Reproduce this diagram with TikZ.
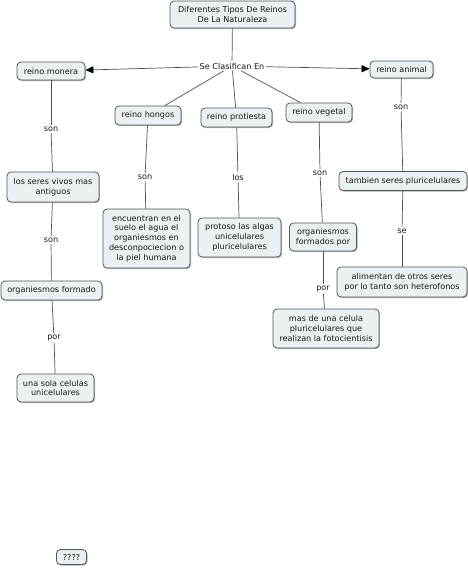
\documentclass[tikz,border=0pt]{standalone}
\usepackage{fontspec}
\setmainfont{DejaVu Sans}
\usetikzlibrary{shadows,arrows.meta}
\definecolor{boxfill}{HTML}{EBF0F3}
\definecolor{boxline}{HTML}{555555}
\definecolor{lineclr}{HTML}{505050}
\begin{document}
\begin{tikzpicture}[x=1pt,y=-1pt,
 concept/.style={draw=boxline, line width=0.8pt, fill=boxfill, rounded corners=4pt, align=center, inner sep=0pt,
   font=\fontsize{8.1}{9.8}\selectfont, text=black!90,
   drop shadow={shadow xshift=1pt, shadow yshift=-1pt, fill=black, opacity=0.3}},
 link/.style={inner sep=1.5pt, font=\fontsize{8.1}{9.8}\selectfont, text=black!90},
 conn/.style={draw=lineclr, line width=0.7pt},
 arr/.style={conn, -{Triangle[length=8pt,width=7pt,fill=black,color=black]}}]
\useasboundingbox (0,0) rectangle (468,568);
\fill[white] (0,0) rectangle (468,568);

\node[concept, minimum width=125pt, minimum height=27pt] (title) at (232.5,14.5) {Diferentes Tipos De Reinos\\De La Naturaleza};
\node[link] (sce) at (232,66) {Se Clasifican En};
\node[concept, minimum width=68pt, minimum height=18pt] (monera) at (51,71) {reino monera};
\node[concept, minimum width=63pt, minimum height=17pt] (animal) at (401.5,69.5) {reino animal};
\node[concept, minimum width=66pt, minimum height=19pt] (hongos) at (148,115.5) {reino hongos};
\node[concept, minimum width=71pt, minimum height=19pt] (protiesta) at (236.5,117.5) {reino protiesta};
\node[concept, minimum width=66pt, minimum height=19pt] (vegetal) at (319,112.5) {reino vegetal};

\node[link] (l1) at (51,129) {son};
\node[concept, minimum width=92pt, minimum height=30pt] (seres) at (53,187) {los seres vivos mas\\antiguos};
\node[link] (l2) at (51,240) {son};
\node[concept, minimum width=101pt, minimum height=19pt] (formado) at (51.5,290.5) {organiesmos formado};
\node[link] (l3) at (54,338) {por};
\node[concept, minimum width=77pt, minimum height=28pt] (sola) at (55.5,388) {una sola celulas\\unicelulares};

\node[link] (l4) at (145,177) {son};
\node[concept, minimum width=87pt, minimum height=59pt] (encuentran) at (146.5,238.5) {encuentran en el\\suelo el agua el\\organiesmos en\\desconpociecion o\\la piel humana};

\node[link] (l5) at (238,177) {los};
\node[concept, minimum width=83pt, minimum height=39pt] (protoso) at (239.5,237.5) {protoso las algas\\unicelulares\\pluricelulares};

\node[link] (l6) at (320,173) {son};
\node[concept, minimum width=67pt, minimum height=28pt] (formados) at (323,237) {organiesmos\\formados por};
\node[link] (l7) at (323,289) {por};
\node[concept, minimum width=106pt, minimum height=39pt] (mas) at (326,328.5) {mas de una celula\\pluricelulares que\\realizan la fotocientisis};

\node[link] (l8) at (401,107) {son};
\node[concept, minimum width=128pt, minimum height=19pt] (tambien) at (403,181) {tambien seres pluricelulares};
\node[link] (l9) at (402,231) {se};
\node[concept, minimum width=130pt, minimum height=30pt] (alimentan) at (402,282) {alimentan de otros seres\\por lo tanto son heterofonos};

\node[concept, minimum width=30pt, minimum height=15pt] (q) at (71.5,557) {????};

\draw[conn] (title) -- (sce);
\draw[conn] (sce) -- (hongos);
\draw[conn] (sce) -- (protiesta);
\draw[conn] (sce) -- (vegetal);
\draw[arr] (sce) -- (monera);
\draw[arr] (sce) -- (animal);

\draw[conn] (monera) -- (l1);
\draw[conn] (l1) -- (seres);
\draw[conn] (seres) -- (l2);
\draw[conn] (l2) -- (formado);
\draw[conn] (formado) -- (l3);
\draw[conn] (l3) -- (sola);

\draw[conn] (hongos) -- (l4);
\draw[conn] (l4) -- (encuentran);
\draw[conn] (protiesta) -- (l5);
\draw[conn] (l5) -- (protoso);
\draw[conn] (vegetal) -- (l6);
\draw[conn] (l6) -- (formados);
\draw[conn] (formados) -- (l7);
\draw[conn] (l7) -- (mas);
\draw[conn] (animal) -- (l8);
\draw[conn] (l8) -- (tambien);
\draw[conn] (tambien) -- (l9);
\draw[conn] (l9) -- (alimentan);
\end{tikzpicture}
\end{document}
